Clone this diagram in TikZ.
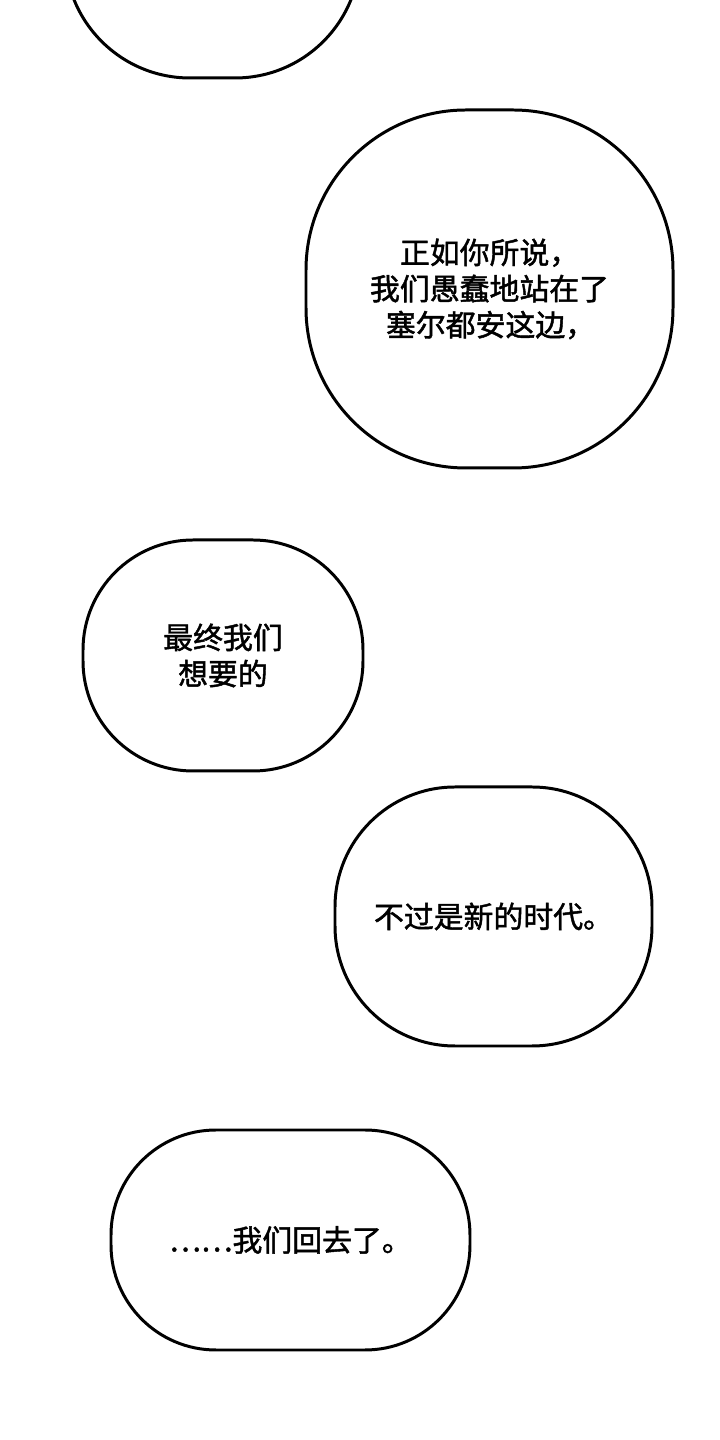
\documentclass[tikz,border=0pt]{standalone}
\usepackage{fontspec}
\newfontfamily\cjk[FakeBold=1.5]{Noto Sans CJK SC}
\usetikzlibrary{positioning}
\begin{document}
\begin{tikzpicture}[
  bubble/.style={draw=black, line width=0.85pt, fill=white,
    font=\cjk\fontsize{8.5pt}{10.3pt}\selectfont, inner sep=0pt}]
  \useasboundingbox (0,0) rectangle (7.2,14.4);
  \clip (0,0) rectangle (7.2,14.4);
  % bubbles, top to bottom
  \node[bubble, minimum width=2.95cm, minimum height=2.6cm, rounded corners=1.25cm] (b0) at (2.125,14.92) {};
  \node[bubble, align=left, minimum width=3.67cm, minimum height=3.58cm, rounded corners=1.6cm] (b1) at (4.895,11.51)
    {\hspace*{0.3cm}正如你所说，\\我们愚蠢地站在了\\\hspace*{0.16cm}塞尔都安这边，};
  \node[bubble, align=center, minimum width=2.8cm, minimum height=2.31cm, rounded corners=1.1cm] (b2) at (2.23,7.845)
    {最终我们\\想要的};
  \node[bubble, minimum width=3.17cm, minimum height=2.59cm, rounded corners=1.2cm] (b3) at (4.935,5.235)
    {不过是新的时代。};
  \node[bubble, minimum width=3.59cm, minimum height=2.2cm, rounded corners=1.05cm] (b4) at (2.905,2.0)
    {……我们回去了。};
\end{tikzpicture}
\end{document}
